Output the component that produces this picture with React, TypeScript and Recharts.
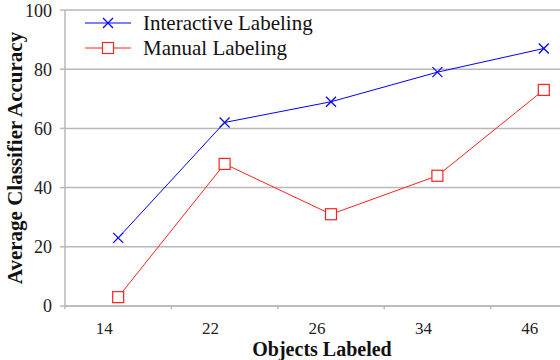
import { LineChart, Line, XAxis, YAxis, CartesianGrid } from 'recharts';

const objectsLabeled = ['14', '22', '26', '34', '46'];
const interactiveLabeling = [23, 62, 69, 79, 87];
const manualLabeling = [3, 48, 31, 44, 73];
const accuracyTicks = [0, 20, 40, 60, 80, 100];

const data = objectsLabeled.map((objects, i) => ({
  objects,
  interactive: interactiveLabeling[i],
  manual: manualLabeling[i],
}));

const BLUE = '#0000ff';
const RED = '#ff2020';
const GRAY = '#b8b8b8';
const SERIF = '"Liberation Serif", "Times New Roman", serif';

function Cross({ cx, cy, color }: any) {
  if (cx == null || cy == null) return null;
  const r = 5;
  return (
    <g stroke={color} strokeWidth={1.2}>
      <line x1={cx - r} y1={cy - r} x2={cx + r} y2={cy + r} />
      <line x1={cx - r} y1={cy + r} x2={cx + r} y2={cy - r} />
    </g>
  );
}

function Square({ cx, cy, color }: any) {
  if (cx == null || cy == null) return null;
  const r = 5.5;
  return <rect x={cx - r} y={cy - r} width={2 * r} height={2 * r} fill="#fff" stroke={color} strokeWidth={1.2} />;
}

function XTick(props: any) {
  const { x, y, payload } = props;
  const half = payload.offset ?? 0;
  return (
    <g>
      <line x1={x - half} x2={x - half} y1={y} y2={y + 3} stroke={GRAY} strokeWidth={1.5} />
      <text x={x - 14} y={y + 28} textAnchor="middle" style={{ fontSize: 17, fontFamily: SERIF, fill: '#222' }}>
        {payload.value}
      </text>
    </g>
  );
}

const legendRows = [
  { name: 'Interactive Labeling', color: BLUE, mark: 'cross' },
  { name: 'Manual Labeling', color: RED, mark: 'square' },
];

function LegendBox() {
  return (
    <svg width={260} height={60} style={{ position: 'absolute', left: 85, top: 8 }}>
      {legendRows.map((r, i) => {
        const cy = 15 + i * 25;
        return (
          <g key={r.name}>
            <line x1={0} x2={46} y1={cy} y2={cy} stroke={r.color} strokeWidth={1} />
            {r.mark === 'cross' ? <Cross cx={23} cy={cy} color={r.color} /> : <Square cx={23} cy={cy} color={r.color} />}
            <text x={58} y={cy + 7} style={{ fontSize: 21, fontFamily: SERIF, fill: '#111' }}>
              {r.name}
            </text>
          </g>
        );
      })}
    </svg>
  );
}

export default function App() {
  return (
    <div
      style={{
        position: 'absolute',
        left: 0,
        top: 0,
        width: 560,
        height: 360,
        overflow: 'hidden',
        background: '#fff',
        fontFamily: SERIF,
      }}
    >
      <LineChart width={600} height={360} data={data} margin={{ top: 10, right: 3, left: 0, bottom: 0 }}>
        <CartesianGrid vertical={false} stroke={GRAY} strokeWidth={1.5} />
        <XAxis
          dataKey="objects"
          scale="band"
          height={54}
          axisLine={{ stroke: GRAY, strokeWidth: 1.5 }}
          tickLine={false}
          tickSize={0}
          tickMargin={0}
          tick={<XTick />}
          interval={0}
          label={{
            value: 'Objects Labeled',
            position: 'insideBottom',
            offset: 4,
            dx: -9,
            style: { fontFamily: SERIF, fontSize: 20, fontWeight: 'bold', fill: '#111' },
          }}
        />
        <YAxis
          width={65}
          domain={[0, 100]}
          ticks={accuracyTicks}
          axisLine={{ stroke: GRAY, strokeWidth: 1.5 }}
          tickLine={{ stroke: GRAY, strokeWidth: 1.5 }}
          tickSize={5}
          tickMargin={8}
          tick={{ style: { fontFamily: SERIF, fontSize: 18, fill: '#222' } }}
          label={{
            value: 'Average Classifier Accuracy',
            angle: -90,
            position: 'insideLeft',
            offset: 15,
            style: { textAnchor: 'middle', fontFamily: SERIF, fontSize: 21, fontWeight: 'bold', fill: '#111' },
          }}
        />
        <Line
          dataKey="interactive"
          name="Interactive Labeling"
          stroke={BLUE}
          strokeWidth={1}
          dot={(p: any) => <Cross key={p.index} cx={p.cx} cy={p.cy} color={BLUE} />}
          activeDot={false}
          isAnimationActive={false}
        />
        <Line
          dataKey="manual"
          name="Manual Labeling"
          stroke={RED}
          strokeWidth={1}
          dot={(p: any) => <Square key={p.index} cx={p.cx} cy={p.cy} color={RED} />}
          activeDot={false}
          isAnimationActive={false}
        />
      </LineChart>
      <LegendBox />
    </div>
  );
}
